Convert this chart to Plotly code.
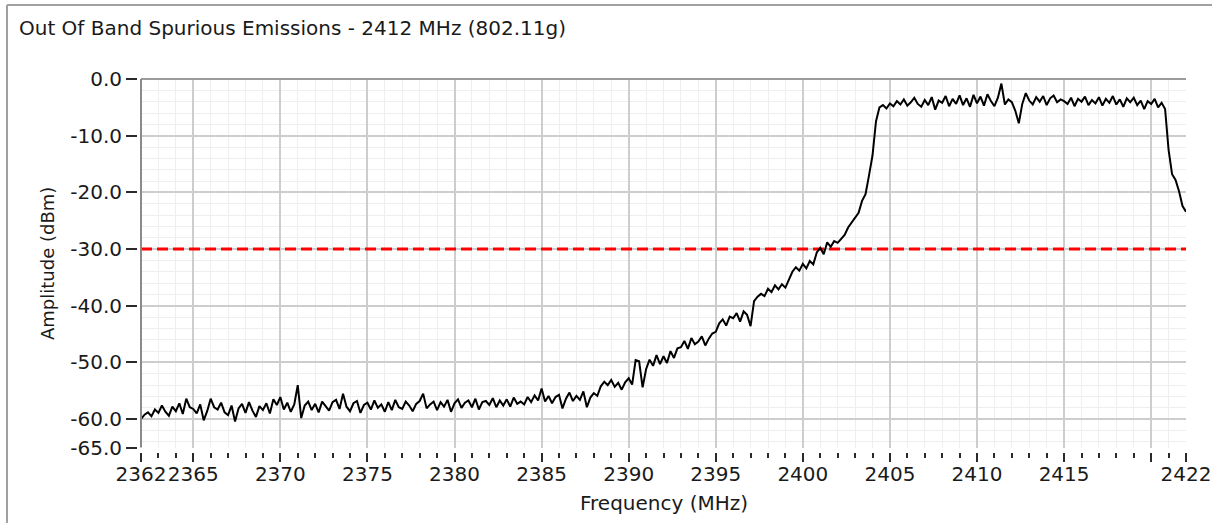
import numpy as np
import plotly.graph_objects as go

# ---------------- data ----------------
TITLE = "Out Of Band Spurious Emissions - 2412 MHz (802.11g)"
X_TITLE = "Frequency (MHz)"
Y_TITLE = "Amplitude (dBm)"

FREQ_START_MHZ = 2362.0
FREQ_STOP_MHZ = 2422.0

# measured amplitude, one row per MHz (samples every 0.2 MHz)
AMPLITUDE_DBM = [
    -60.0, -59.2, -58.8, -59.5, -58.3,   # 2362
    -58.9, -57.6, -58.7, -59.4, -57.8,   # 2363
    -58.6, -57.2, -59.1, -56.4, -57.9,   # 2364
    -58.2, -59.0, -57.4, -60.2, -58.6,   # 2365
    -56.4, -57.9, -58.3, -57.1, -58.8,   # 2366
    -59.3, -57.6, -60.4, -58.1, -57.3,   # 2367
    -58.9, -57.0, -58.5, -59.6, -57.7,   # 2368
    -58.4, -57.2, -59.0, -56.5, -57.5,   # 2369
    -56.1, -58.3, -57.1, -58.7, -57.4,   # 2370
    -54.0, -59.8, -57.6, -56.9, -58.4,   # 2371
    -57.3, -58.8, -56.9, -57.7, -58.5,   # 2372
    -57.0, -56.6, -58.2, -55.5, -57.8,   # 2373
    -58.6, -57.2, -56.8, -58.9, -57.5,   # 2374
    -57.1, -58.3, -56.7, -58.0, -57.4,   # 2375
    -58.7, -57.0, -58.4, -56.6, -57.9,   # 2376
    -58.2, -56.9, -57.6, -58.6, -57.3,   # 2377
    -56.8, -55.5, -58.1, -57.4, -56.9,   # 2378
    -58.4, -57.0, -57.8, -56.6, -58.7,   # 2379
    -57.2, -56.5, -58.0, -57.1, -56.7,   # 2380
    -57.9, -56.4, -58.3, -57.0, -56.8,   # 2381
    -57.5, -56.3, -57.9, -56.7, -57.6,   # 2382
    -56.5, -57.8, -56.2, -57.3, -56.9,   # 2383
    -57.4, -56.1, -57.0, -55.8, -56.7,   # 2384
    -54.6, -56.9, -55.9, -57.2, -56.1,   # 2385
    -55.7, -58.1, -56.4, -55.3, -56.8,   # 2386
    -55.9, -56.6, -55.1, -57.9, -56.2,   # 2387
    -55.4, -55.9, -54.2, -53.4, -54.0,   # 2388
    -53.1, -54.3, -53.6, -54.8, -53.5,   # 2389
    -52.8, -53.9, -49.6, -49.8, -54.4,   # 2390
    -51.2, -49.5, -50.6, -48.7, -50.3,   # 2391
    -48.9, -50.1, -48.0, -49.2, -47.5,   # 2392
    -47.3, -46.2, -47.6, -45.7, -46.8,   # 2393
    -46.3, -45.4, -47.0, -45.8, -44.9,   # 2394
    -44.6, -43.1, -42.4, -43.5, -41.9,   # 2395
    -42.2, -41.3, -42.8, -41.0, -41.6,   # 2396
    -43.6, -39.2, -38.4, -37.9, -38.3,   # 2397
    -37.0, -37.6, -36.4, -37.1, -36.2,   # 2398
    -36.8, -35.4, -34.0, -33.2, -33.8,   # 2399
    -32.6, -33.4, -32.1, -32.7, -30.6,   # 2400
    -29.8, -30.9, -28.8, -29.6, -28.6,   # 2401
    -28.9, -28.2, -27.5, -26.2, -25.4,   # 2402
    -24.5, -23.6, -21.5, -20.3, -17.0,   # 2403
    -13.5, -7.5, -5.0, -4.6, -5.2,       # 2404
    -4.3, -4.8, -3.9, -4.5, -3.6,        # 2405
    -4.7, -4.1, -3.3, -4.4, -4.9,        # 2406
    -3.7, -4.6, -3.2, -5.4, -3.8,        # 2407
    -4.2, -3.0, -4.8, -3.5, -4.4,        # 2408
    -2.9, -4.6, -3.4, -4.9, -2.8,        # 2409
    -4.3, -3.1, -4.7, -2.7, -3.9,        # 2410
    -4.8, -3.3, -0.8, -4.5, -3.6,        # 2411
    -4.1, -5.6, -7.8, -4.4, -2.5,        # 2412
    -3.8, -4.5, -3.2, -4.0, -3.0,        # 2413
    -4.6, -3.4, -2.9, -4.1, -3.6,        # 2414
    -3.9, -4.4, -3.3, -4.8, -3.5,        # 2415
    -4.0, -3.1, -4.6, -3.7, -4.3,        # 2416
    -3.2, -4.7, -3.5, -4.2, -3.0,        # 2417
    -4.5, -3.6, -4.9, -3.4, -4.1,        # 2418
    -3.3, -4.6, -3.8, -5.3, -3.9,        # 2419
    -4.4, -3.5, -5.0, -4.2, -5.3,        # 2420
    -12.5, -16.8, -17.8, -19.8, -22.4,   # 2421
    -23.4,                               # 2422
]

LIMIT_DBM = -30.0

X_TICK_VALUES = [2362, 2365, 2370, 2375, 2380, 2385, 2390, 2395, 2400,
                 2405, 2410, 2415, 2420, 2422]
X_TICK_TEXT = ["2362", "2365", "2370", "2375", "2380", "2385", "2390", "2395",
               "2400", "2405", "2410", "2415", "", "2422"]
X_MINOR_TICKS = [v for v in range(2362, 2423) if v not in X_TICK_VALUES]
X_GRID_MAJOR = [2365, 2370, 2375, 2380, 2385, 2390, 2395, 2400, 2405,
                2410, 2415, 2420]
X_GRID_MINOR = [v for v in range(2363, 2422) if v not in X_GRID_MAJOR]

Y_RANGE = [-65.0, 0.0]
Y_TICK_VALUES = [0, -10, -20, -30, -40, -50, -60, -65]
Y_TICK_TEXT = ["0.0", "-10.0", "-20.0", "-30.0", "-40.0", "-50.0", "-60.0", "-65.0"]
Y_GRID_MAJOR = [0, -10, -20, -30, -40, -50, -60]
Y_GRID_MINOR = [v for v in range(-2, -65, -2) if v not in Y_GRID_MAJOR]

# ---------------- figure ----------------
freq = np.linspace(FREQ_START_MHZ, FREQ_STOP_MHZ, len(AMPLITUDE_DBM))

W, H = 1212, 523
ML, MR, MT, MB = 137, 26, 79, 71
PW, PH = W - ML - MR, H - MT - MB
XD0 = 4 / PW
YD0 = 4.5 / PH

FONT = "DejaVu Sans"
TXT = "#1a1a1a"

fig = go.Figure()
fig.add_trace(go.Scatter(
    x=[FREQ_START_MHZ, FREQ_STOP_MHZ], y=[LIMIT_DBM, LIMIT_DBM],
    mode="lines", line=dict(color="#ff0000", width=3, dash="11px,5px"),
    xaxis="x", yaxis="y", showlegend=False, hoverinfo="skip"))
fig.add_trace(go.Scatter(
    x=freq, y=AMPLITUDE_DBM, mode="lines",
    line=dict(color="#000000", width=2),
    xaxis="x2", yaxis="y2", showlegend=False))

grid_common = dict(showticklabels=False, ticks="", zeroline=False,
                   showline=False, showgrid=True, gridcolor="#cdcdcd",
                   gridwidth=2)

fig.update_layout(
    width=W, height=H,
    margin=dict(l=ML, r=MR, t=MT, b=MB, pad=0, autoexpand=False),
    paper_bgcolor="white", plot_bgcolor="white",
    font=dict(family=FONT, size=20, color=TXT),
    title=dict(text=TITLE, x=19 / W, xanchor="left", xref="container",
               y=1 - 28 / H, yanchor="middle", yref="container",
               font=dict(family=FONT, size=20, color=TXT)),
    xaxis=dict(domain=[XD0, 1], range=[FREQ_START_MHZ, FREQ_STOP_MHZ],
               anchor="y", tickmode="array", tickvals=X_GRID_MAJOR,
               minor=dict(tickmode="array", tickvals=X_GRID_MINOR,
                          showgrid=True, gridcolor="#eeeeee", gridwidth=1,
                          ticks=""),
               **grid_common),
    yaxis=dict(domain=[YD0, 1], range=Y_RANGE, anchor="x",
               tickmode="array", tickvals=Y_GRID_MAJOR,
               minor=dict(tickmode="array", tickvals=Y_GRID_MINOR,
                          showgrid=True, gridcolor="#eeeeee", gridwidth=1,
                          ticks=""),
               **grid_common),
    xaxis2=dict(overlaying="x", anchor="free", position=0,
                range=[FREQ_START_MHZ, FREQ_STOP_MHZ],
                tickmode="array", tickvals=X_TICK_VALUES, ticktext=X_TICK_TEXT,
                tickangle=0, automargin=False, ticklabelstandoff=-5,
                ticks="outside", ticklen=9, tickwidth=2, tickcolor="#2a2a2a",
                showgrid=False, zeroline=False, showline=False,
                tickfont=dict(family=FONT, size=20, color=TXT),
                minor=dict(tickmode="array", tickvals=X_MINOR_TICKS,
                           ticks="outside", ticklen=5, tickwidth=2,
                           tickcolor="#2a2a2a", showgrid=False)),
    yaxis2=dict(overlaying="y", anchor="free", position=0, side="left",
                range=Y_RANGE, tickmode="array", tickvals=Y_TICK_VALUES,
                ticktext=Y_TICK_TEXT, ticks="outside", ticklen=11,
                tickwidth=2, tickcolor="#2a2a2a", automargin=False,
                showgrid=False, zeroline=False, showline=False,
                tickfont=dict(family=FONT, size=20, color=TXT)),
)

# plot-area borders (top and left) and outer frame
fig.add_shape(type="line", xref="x domain", yref="y domain",
              x0=0, x1=1, y0=1, y1=1, line=dict(color="#9c9c9c", width=2))
fig.add_shape(type="line", xref="x domain", yref="y domain",
              x0=0, x1=0, y0=0, y1=1, line=dict(color="#8a8a8a", width=2))
fx = (7 - ML) / PW
fy = (H - MB - 5) / PH
fig.add_shape(type="line", xref="paper", yref="paper",
              x0=fx, x1=(W + 5 - ML) / PW, y0=fy, y1=fy,
              line=dict(color="#a0a0a0", width=2))
fig.add_shape(type="line", xref="paper", yref="paper",
              x0=fx, x1=fx, y0=fy, y1=-(MB + 5) / PH,
              line=dict(color="#a0a0a0", width=2))

# axis titles
fig.add_annotation(text=Y_TITLE, xref="paper", yref="paper",
                   x=(47 - ML) / PW, y=(H - MB - 264) / PH,
                   xanchor="center", yanchor="middle", textangle=-90,
                   showarrow=False, font=dict(family=FONT, size=18, color=TXT))
fig.add_annotation(text=X_TITLE, xref="paper", yref="paper",
                   x=(664 - ML) / PW, y=(H - MB - 503) / PH,
                   xanchor="center", yanchor="middle",
                   showarrow=False, font=dict(family=FONT, size=20, color=TXT))

fig.write_html("out.html",
               config={"displayModeBar": False},
               post_script="document.body.style.margin='0';"
                           "document.body.style.overflow='hidden';")
